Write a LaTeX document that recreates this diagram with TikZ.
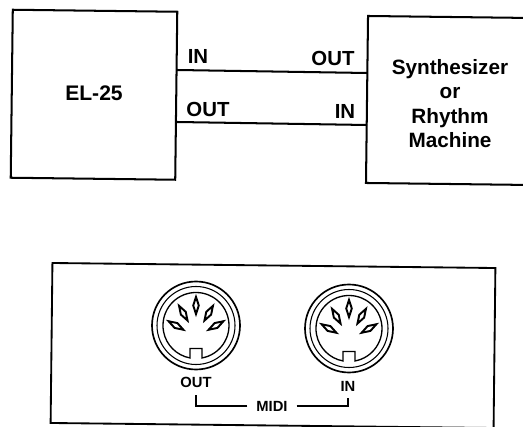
\documentclass[tikz,border=0pt]{standalone}
\usepackage{fontspec}
\setmainfont{Liberation Sans}
\tikzset{
  unitbox/.style={draw, line width=1.15pt, inner sep=0pt, rotate=-0.7},
  wire/.style={line width=1.15pt},
  portlabel/.style={font=\fontsize{11.6}{14}\selectfont\bfseries},
  panellabel/.style={font=\fontsize{8.4}{10}\selectfont\bfseries, inner sep=1pt}
}
% one MIDI socket: centre, name
\newcommand{\mididin}[2]{%
  \node[circle, draw, line width=0.95pt, minimum size=1.76cm, inner sep=0pt] (#2) at (#1) {};
  \begin{scope}[shift={(#1)}, x=0.02cm, y=0.02cm]
    \draw[line width=0.6pt] (0,0) circle (39);
    \draw[line width=0.75pt] (6,-32.45) arc[start angle=-79.5, end angle=259.5, radius=33] -- (-6,-23) -- (6,-23) -- cycle;
    \foreach \px/\py/\ang in {0/20/90, -12.7/12.3/120, -20/0/150, 12.7/12.3/60, 20/0/30} {
      \draw[line width=1.1pt, shift={(\px,\py)}, rotate=\ang] (-8.5,0) -- (0,2.8) -- (8.5,0) -- (0,-2.8) -- cycle;
    }
  \end{scope}
}
\begin{document}
\begin{tikzpicture}
  \useasboundingbox (0,0) rectangle (10.46,8.52);
  \node[unitbox, minimum width=3.29cm, minimum height=3.36cm] (el) at (1.88,6.625) {};
  \node[font=\fontsize{12}{14}\selectfont\bfseries] (eltext) at (1.88,6.66) {EL-25};
  \node[unitbox, minimum width=3.32cm, minimum height=3.34cm] (synth) at (9.0,6.51) {};
  \node[align=center, font=\fontsize{11.8}{13.9}\selectfont\bfseries] (synthtext) at (9.0,6.45) {Synthesizer\\or\\Rhythm\\Machine};

  \coordinate (w1a) at (3.54,7.12);
  \coordinate (w1b) at (7.34,7.06);
  \coordinate (w2a) at (3.54,6.08);
  \coordinate (w2b) at (7.34,6.02);
  \draw[wire] (w1a) -- (w1b);
  \draw[wire] (w2a) -- (w2b);
  \node[portlabel] (in1) at (3.96,7.40) {IN};
  \node[portlabel] (out1) at (6.66,7.36) {OUT};
  \node[portlabel] (out2) at (4.16,6.34) {OUT};
  \node[portlabel] (in2) at (6.9,6.30) {IN};

  \node[draw, line width=1.05pt, rotate=-0.65, minimum width=8.86cm, minimum height=3.2cm] (panel) at (5.46,1.61) {};
  \mididin{3.92,2.01}{din1}
  \mididin{6.98,1.95}{din2}
  \node[panellabel] (outlab) at (3.92,0.88) {OUT};
  \node[panellabel] (inlab) at (6.96,0.80) {IN};
  \node[panellabel, inner sep=5pt] (midi) at (5.44,0.40) {MIDI};
  \draw[line width=0.7pt, shorten >=3pt] (midi.west) -| (outlab.south);
  \draw[line width=0.7pt, shorten >=2.5pt] (midi.east) -| (inlab.south);
\end{tikzpicture}
\end{document}
